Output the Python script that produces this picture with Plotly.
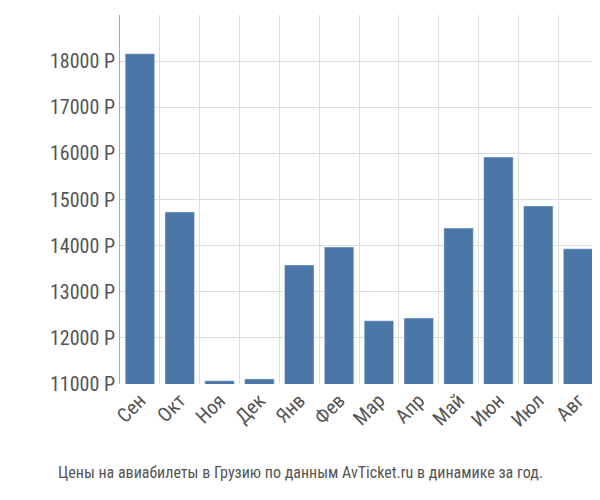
import plotly.graph_objects as go

months = ["Сен","Окт","Ноя","Дек","Янв","Фев","Мар","Апр","Май","Июн","Июл","Авг"]
prices = [18160,14730,11070,11110,13580,13970,12370,12430,14380,15920,14860,13930]
yticks = list(range(11000, 19001, 1000))

x = list(range(len(months)))
fig = go.Figure(go.Bar(x=x, y=prices, marker_color="#4a76a8", width=0.74))
font = "Liberation Sans Narrow, Roboto Condensed, Arial Narrow, sans-serif"
fig.update_layout(
    width=600, height=500, plot_bgcolor="white", paper_bgcolor="white",
    margin=dict(l=112, r=10, t=7, b=124), showlegend=False,
    font=dict(family=font, color="#555", size=20),
    annotations=[dict(text="Цены на авиабилеты в Грузию по данным AvTicket.ru в динамике за год.",
                      xref="paper", yref="paper", x=0.377, y=0, yshift=-100, xanchor="center",
                      showarrow=False, font=dict(size=16, color="#555"))],
)
fig.update_xaxes(range=[-0.5, len(months)-0.5], tickvals=x, ticktext=months, tickangle=-45,
                 showgrid=False, zeroline=False,
                 minor=dict(tickvals=[i+0.5 for i in x], showgrid=True, gridcolor="#ddd", ticks=""))
fig.update_yaxes(range=[11000, 19000], tickvals=yticks, ticktext=[f"{v} Р" for v in yticks],
                 gridcolor="#ddd", showline=True, linecolor="#aaa", zeroline=False, ticks="")
fig.write_html("out.html")
